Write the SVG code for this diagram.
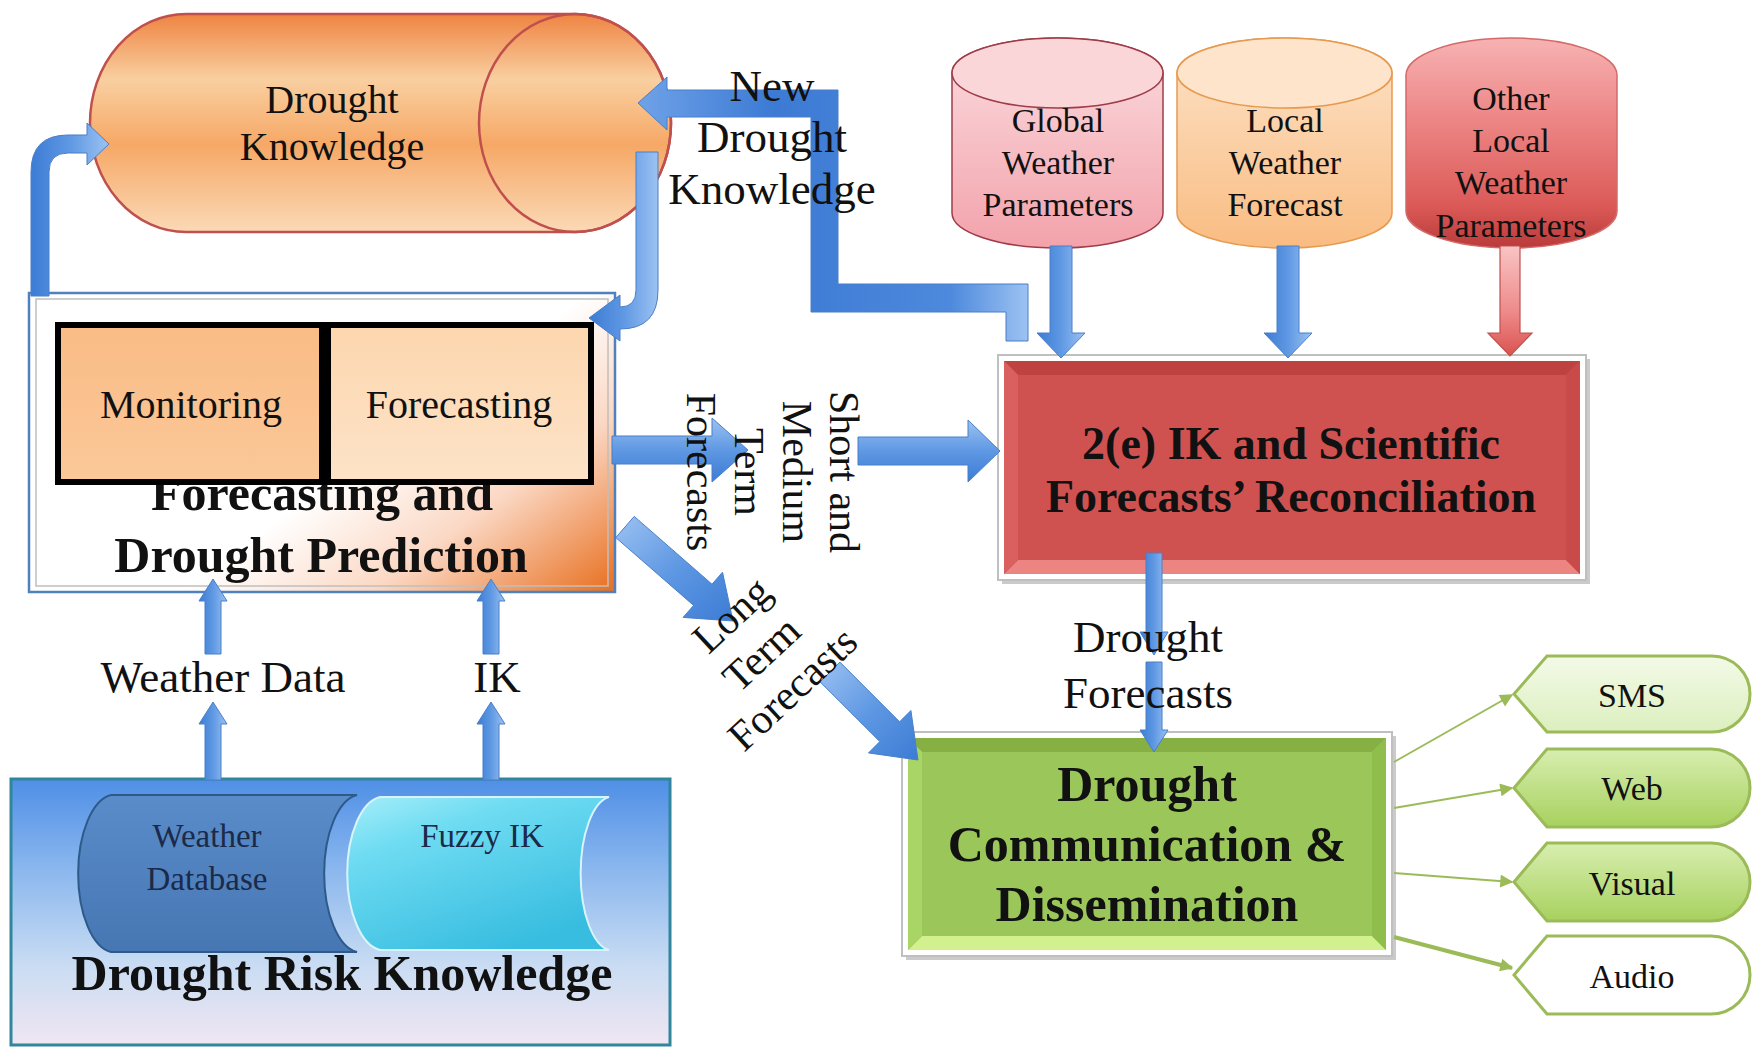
<svg xmlns="http://www.w3.org/2000/svg" width="1752" height="1048" viewBox="0 0 1752 1048">
<defs>
<style>
.t{font-family:"Liberation Serif","Times New Roman",serif;fill:#111;text-anchor:middle}
.b{font-weight:bold}
.lbl{font-size:45px}
.rot{font-size:42px}
.ba{fill:url(#gBlue);stroke:#4A7FC8;stroke-width:1}
.bh{fill:url(#gBlueH);stroke:#4A7FC8;stroke-width:1}
.gl{stroke:#9BBB59;fill:none;marker-end:url(#mG)}
.out{stroke:#9BBB59;stroke-width:3}
.ch{font-size:34px}
</style>
<linearGradient id="gBlue" x1="0" y1="0" x2="1" y2="0">
<stop offset="0" stop-color="#3C7CD5"/><stop offset="0.5" stop-color="#5F98E3"/><stop offset="1" stop-color="#9CC2F2"/>
</linearGradient>
<linearGradient id="gBlueH" x1="0" y1="0" x2="0" y2="1">
<stop offset="0" stop-color="#9CC2F2"/><stop offset="0.5" stop-color="#5F98E3"/><stop offset="1" stop-color="#3C7CD5"/>
</linearGradient>
<linearGradient id="gBlueD" x1="0" y1="0" x2="1" y2="1">
<stop offset="0" stop-color="#9CC2F2"/><stop offset="0.5" stop-color="#5F98E3"/><stop offset="1" stop-color="#3C7CD5"/>
</linearGradient>
<linearGradient id="gNew" x1="0" y1="0" x2="1" y2="0">
<stop offset="0" stop-color="#6FA2E8"/><stop offset="0.35" stop-color="#3C7AD4"/><stop offset="0.8" stop-color="#4D89DC"/><stop offset="1" stop-color="#9CC2F2"/>
</linearGradient>
<linearGradient id="gRedA" x1="0" y1="0" x2="0" y2="1">
<stop offset="0" stop-color="#F9C4C4"/><stop offset="0.6" stop-color="#EE8A8A"/><stop offset="1" stop-color="#D9534F"/>
</linearGradient>
<linearGradient id="gDK" x1="0" y1="0" x2="0" y2="1">
<stop offset="0" stop-color="#EE8442"/><stop offset="0.3" stop-color="#F9CFA0"/><stop offset="0.6" stop-color="#F6A866"/><stop offset="1" stop-color="#FBD9B6"/>
</linearGradient>
<linearGradient id="gFP" x1="0" y1="0.3" x2="1" y2="1">
<stop offset="0" stop-color="#FFFFFF"/><stop offset="0.5" stop-color="#FFFFFF"/><stop offset="0.72" stop-color="#FBD8C4"/><stop offset="1" stop-color="#E86E1E"/>
</linearGradient>
<linearGradient id="gMon" x1="0" y1="0" x2="0" y2="1">
<stop offset="0" stop-color="#F9BC86"/><stop offset="1" stop-color="#FBC898"/>
</linearGradient>
<linearGradient id="gFor" x1="0" y1="0" x2="0" y2="1">
<stop offset="0" stop-color="#FCD6AE"/><stop offset="1" stop-color="#FDE3C8"/>
</linearGradient>
<linearGradient id="gDR" x1="0" y1="0" x2="0" y2="1">
<stop offset="0" stop-color="#4F8FE6"/><stop offset="0.35" stop-color="#8CB8EE"/><stop offset="0.7" stop-color="#C9DCF3"/><stop offset="1" stop-color="#F0E6F2"/>
</linearGradient>
<linearGradient id="gWD" x1="0" y1="0" x2="0" y2="1">
<stop offset="0" stop-color="#5A8CCA"/><stop offset="1" stop-color="#4677B3"/>
</linearGradient>
<linearGradient id="gFz" x1="0" y1="0" x2="0.6" y2="1">
<stop offset="0" stop-color="#A6EEF9"/><stop offset="0.3" stop-color="#6FDCF2"/><stop offset="1" stop-color="#38BDE0"/>
</linearGradient>
<linearGradient id="gGl" x1="0" y1="0" x2="0" y2="1">
<stop offset="0" stop-color="#FADCDF"/><stop offset="1" stop-color="#F3A2AB"/>
</linearGradient>
<linearGradient id="gLo" x1="0" y1="0" x2="0" y2="1">
<stop offset="0" stop-color="#FDE3C8"/><stop offset="1" stop-color="#F9BC82"/>
</linearGradient>
<linearGradient id="gOt" x1="0" y1="0" x2="0" y2="1">
<stop offset="0" stop-color="#F7B2B2"/><stop offset="0.35" stop-color="#EE8A8A"/><stop offset="0.8" stop-color="#DB5A57"/><stop offset="1" stop-color="#B93A3A"/>
</linearGradient>
<linearGradient id="gSMS" x1="0" y1="0" x2="0" y2="1">
<stop offset="0" stop-color="#F3FAE8"/><stop offset="1" stop-color="#DCEFBE"/>
</linearGradient>
<linearGradient id="gWeb" x1="0" y1="0" x2="0" y2="1">
<stop offset="0" stop-color="#D8EEB0"/><stop offset="1" stop-color="#A7D15E"/>
</linearGradient>
<marker id="mG" viewBox="0 0 10 10" refX="9" refY="5" markerWidth="15" markerHeight="13" markerUnits="userSpaceOnUse" orient="auto">
<path d="M0,0 L10,5 L0,10 Z" fill="#9BBB59"/>
</marker>
</defs>

<rect x="0" y="0" width="1752" height="1048" fill="#FFFFFF"/>

<g id="drought-knowledge">
<path d="M186,14 L575,14 A96,109 0 0 1 575,232 L186,232 A96,109 0 0 1 186,14 Z" fill="url(#gDK)" stroke="#C0504D" stroke-width="2.5"/>
<ellipse cx="575" cy="123" rx="96" ry="109" fill="none" stroke="#C0504D" stroke-width="2.5"/>
<text class="t" x="332" y="113" font-size="40">Drought</text>
<text class="t" x="332" y="160" font-size="40">Knowledge</text>
</g>

<g id="forecasting-prediction">
<rect x="29" y="293" width="586" height="299" fill="url(#gFP)" stroke="#4F81BD" stroke-width="2.5"/>
<rect x="36" y="299" width="572" height="287" fill="none" stroke="#BFBFBF" stroke-width="1.5"/>
<text class="t b" x="322" y="510" font-size="50">Forecasting and</text>
<text class="t b" x="321" y="572" font-size="50">Drought Prediction</text>
<g id="monitoring">
<rect x="58" y="325" width="264" height="157" fill="url(#gMon)" stroke="#000" stroke-width="6"/>
<text class="t" x="191" y="418" font-size="40">Monitoring</text>
</g>
<g id="forecasting">
<rect x="328" y="325" width="263" height="157" fill="url(#gFor)" stroke="#000" stroke-width="6"/>
<text class="t" x="459" y="418" font-size="40">Forecasting</text>
</g>
</g>

<g id="drought-risk-knowledge">
<rect x="11" y="779" width="659" height="266" fill="url(#gDR)" stroke="#31859C" stroke-width="3"/>
<g id="weather-database">
<path d="M111,795 L357,795 A37,79 0 0 0 357,952 L111,952 A37,79 0 0 1 111,795 Z" fill="url(#gWD)" stroke="#2E5A8A" stroke-width="2"/>
<text class="t" x="207" y="847" font-size="33" style="fill:#1B2A48">Weather</text>
<text class="t" x="207" y="890" font-size="33" style="fill:#1B2A48">Database</text>
</g>
<g id="fuzzy-ik">
<path d="M380,797 L609,797 A32,77 0 0 0 609,950 L380,950 A37,77 0 0 1 380,797 Z" fill="url(#gFz)" stroke="#D8F4FA" stroke-width="2"/>
<text class="t" x="482" y="847" font-size="33" style="fill:#1B2A48">Fuzzy IK</text>
</g>
<text class="t b" x="342" y="990" font-size="50">Drought Risk Knowledge</text>
</g>

<g id="global-weather">
<path d="M952,73 A105.5,35 0 0 1 1163,73 L1163,213 A105.5,35 0 0 1 952,213 Z" fill="url(#gGl)" stroke="#9E3C48" stroke-width="1.5"/>
<ellipse cx="1057.5" cy="73" rx="105.5" ry="35" fill="#FBD6D9" stroke="#9E3C48" stroke-width="1.5"/>
<text class="t" x="1058" y="132" font-size="34">Global</text>
<text class="t" x="1058" y="174" font-size="34">Weather</text>
<text class="t" x="1058" y="216" font-size="34">Parameters</text>
</g>

<g id="local-weather">
<path d="M1177,73 A107.5,35 0 0 1 1392,73 L1392,213 A107.5,35 0 0 1 1177,213 Z" fill="url(#gLo)" stroke="#E69A50" stroke-width="1.5"/>
<ellipse cx="1284.5" cy="73" rx="107.5" ry="35" fill="#FDE4CA" stroke="#E69A50" stroke-width="1.5"/>
<text class="t" x="1285" y="132" font-size="34">Local</text>
<text class="t" x="1285" y="174" font-size="34">Weather</text>
<text class="t" x="1285" y="216" font-size="34">Forecast</text>
</g>

<g id="other-weather">
<path d="M1406,75 A105.5,37 0 0 1 1617,75 L1617,211 A105.5,37 0 0 1 1406,211 Z" fill="url(#gOt)" stroke="#D46A6A" stroke-width="1.5"/>
<text class="t" x="1511" y="110" font-size="34">Other</text>
<text class="t" x="1511" y="152" font-size="34">Local</text>
<text class="t" x="1511" y="194" font-size="34">Weather</text>
<text class="t" x="1511" y="237" font-size="34">Parameters</text>
</g>

<g id="reconciliation">
<rect x="1002" y="359" width="588" height="225" fill="#A6A6A6" opacity="0.6"/>
<rect x="998" y="355" width="588" height="225" fill="#FFFFFF" stroke="#BFBFBF" stroke-width="2"/>
<rect x="1004" y="361" width="576" height="213" fill="#D05250"/>
<polygon points="1004,361 1580,361 1566,375 1018,375" fill="#BE4340"/>
<polygon points="1004,574 1580,574 1566,560 1018,560" fill="#EC8482"/>
<polygon points="1004,361 1018,375 1018,560 1004,574" fill="#D9605E"/>
<polygon points="1580,361 1566,375 1566,560 1580,574" fill="#C84B49"/>
<text class="t b" x="1291" y="459" font-size="46">2(e) IK and Scientific</text>
<text class="t b" x="1291" y="512" font-size="46">Forecasts’ Reconciliation</text>
</g>

<g id="communication">
<rect x="906" y="736" width="490" height="224" fill="#A6A6A6" opacity="0.6"/>
<rect x="902" y="732" width="490" height="224" fill="#FFFFFF" stroke="#BFBFBF" stroke-width="2"/>
<rect x="908" y="738" width="478" height="212" fill="#9BC75A"/>
<polygon points="908,738 1386,738 1372,752 922,752" fill="#86B043"/>
<polygon points="908,950 1386,950 1372,936 922,936" fill="#D3F08F"/>
<polygon points="908,738 922,752 922,936 908,950" fill="#A9D466"/>
<polygon points="1386,738 1372,752 1372,936 1386,950" fill="#8FBE4D"/>
<text class="t b" x="1147" y="801" font-size="50">Drought</text>
<text class="t b" x="1147" y="861" font-size="50">Communication &amp;</text>
<text class="t b" x="1147" y="921" font-size="50">Dissemination</text>
</g>

<g id="sms">
<path class="out" d="M1514,694 L1547,656 L1712,656 A38,38 0 0 1 1712,732 L1547,732 Z" fill="url(#gSMS)"/>
<text class="t ch" x="1632" y="707">SMS</text>
</g>
<g id="web">
<path class="out" d="M1514,788 L1547,749 L1711,749 A39,39 0 0 1 1711,827 L1547,827 Z" fill="url(#gWeb)"/>
<text class="t ch" x="1632" y="800">Web</text>
</g>
<g id="visual">
<path class="out" d="M1514,882 L1547,843 L1711,843 A39,39 0 0 1 1711,921 L1547,921 Z" fill="url(#gWeb)"/>
<text class="t ch" x="1632" y="895">Visual</text>
</g>
<g id="audio">
<path class="out" d="M1514,975 L1547,936 L1711,936 A39,39 0 0 1 1711,1014 L1547,1014 Z" fill="#FFFFFF"/>
<text class="t ch" x="1632" y="988">Audio</text>
</g>

<g id="connectors">
<path class="ba" d="M31,296 L31,172 Q31,135 68,135 L87,135 L87,123 L109,144 L87,165 L87,153 L68,153 Q49,153 49,172 L49,296 Z"/>
<path class="ba" d="M636,152 L658,152 L658,290 Q658,329 620,329 L620,341 L589,318 L620,295 L620,307 Q636,307 636,290 Z"/>
<path d="M638,103 L667,77 L667,90 L838,90 L838,284 L1028,284 L1028,341 L1006,341 L1006,312 L811,312 L811,117 L667,117 L667,130 Z" fill="url(#gNew)" stroke="#4A7FC8" stroke-width="1"/>
<path class="ba" d="M1050,246 L1072,246 L1072,333 L1085,333 L1061,358 L1037,333 L1050,333 Z"/>
<path class="ba" d="M1277,246 L1299,246 L1299,333 L1312,333 L1288,358 L1264,333 L1277,333 Z"/>
<path d="M1500,246 L1520,246 L1520,333 L1532,333 L1510,356 L1488,333 L1500,333 Z" fill="url(#gRedA)" stroke="#C0504D" stroke-width="1.2"/>
<path class="bh" d="M612,436 L712,436 L712,418 L748,450 L712,482 L712,464 L612,464 Z"/>
<path class="bh" d="M858,437 L968,437 L968,420 L1000,451 L968,482 L968,465 L858,465 Z"/>
<path d="M634.2,516.4 L712,584.2 L722.5,572.2 L733,621 L683.1,617.4 L693.6,605.4 L615.8,537.6 Z" fill="url(#gBlueD)" stroke="#4A7FC8" stroke-width="1"/>
<path d="M839.9,662.1 L899.6,721.8 L910.9,710.5 L918,760 L868.5,752.9 L879.8,741.6 L820.1,681.9 Z" fill="url(#gBlueD)" stroke="#4A7FC8" stroke-width="1"/>
<path class="ba" d="M1146,553 L1162,553 L1162,632 L1168,632 L1154,655 L1140,632 L1146,632 Z"/>
<path class="ba" d="M1146,662 L1162,662 L1162,730 L1168,730 L1154,752 L1140,730 L1146,730 Z"/>
<path class="ba" d="M205,780 L205,724 L199,724 L213,702 L227,724 L221,724 L221,780 Z"/>
<path class="ba" d="M205,654 L205,601 L199,601 L213,579 L227,601 L221,601 L221,654 Z"/>
<path class="ba" d="M483,780 L483,724 L477,724 L491,702 L505,724 L499,724 L499,780 Z"/>
<path class="ba" d="M483,654 L483,601 L477,601 L491,579 L505,601 L499,601 L499,654 Z"/>
<line class="gl" x1="1394" y1="762" x2="1512" y2="695" stroke-width="2"/>
<line class="gl" x1="1394" y1="808" x2="1512" y2="788" stroke-width="2"/>
<line class="gl" x1="1394" y1="873" x2="1512" y2="882" stroke-width="2"/>
<line class="gl" x1="1394" y1="937" x2="1512" y2="968" stroke-width="4"/>
</g>

<g id="labels">
<text class="t lbl" x="772" y="101">New</text>
<text class="t lbl" x="772" y="152">Drought</text>
<text class="t lbl" x="772" y="204">Knowledge</text>
<text class="t lbl" x="223" y="692">Weather Data</text>
<text class="t lbl" x="497" y="692">IK</text>
<text class="t lbl" x="1148" y="652">Drought</text>
<text class="t lbl" x="1148" y="708">Forecasts</text>
<text class="t rot" transform="translate(830,472) rotate(90)">Short and</text>
<text class="t rot" transform="translate(783,472) rotate(90)">Medium</text>
<text class="t rot" transform="translate(735,472) rotate(90)">Term</text>
<text class="t rot" transform="translate(687,472) rotate(90)">Forecasts</text>
<text class="t rot" transform="translate(741,625) rotate(-43)">Long</text>
<text class="t rot" transform="translate(771,664) rotate(-43)">Term</text>
<text class="t rot" transform="translate(802,699) rotate(-43)">Forecasts</text>
</g>
</svg>
